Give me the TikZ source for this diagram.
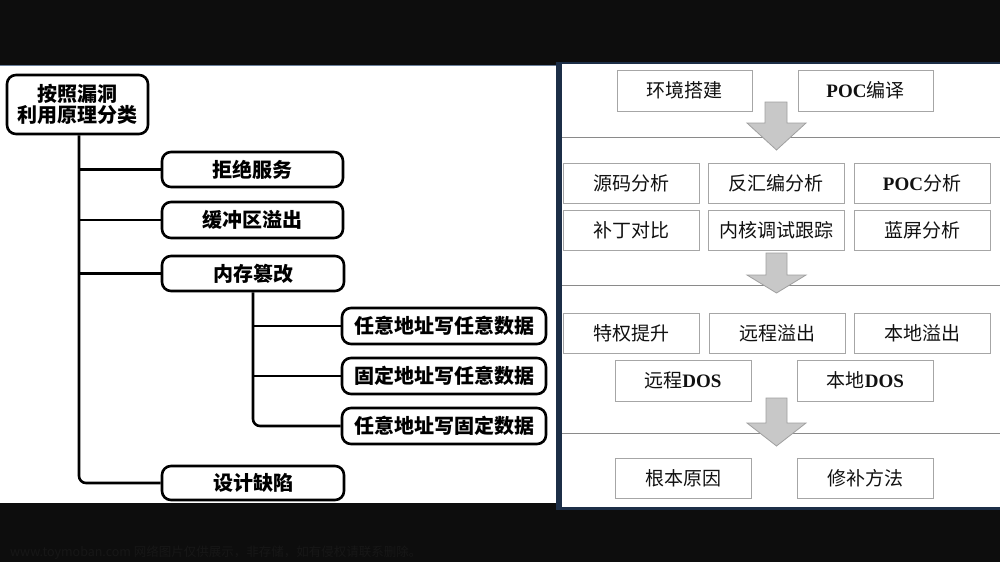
\documentclass[tikz,border=0pt]{standalone}
\usepackage{fontspec}
\setmainfont{Liberation Serif}
\newfontfamily\cjk{Noto Sans CJK SC}
\newcommand\lat[1]{{\rmfamily\bfseries #1}}
\definecolor{bgdark}{HTML}{0D0D0D}
\definecolor{navyedge}{HTML}{1C2E47}
\definecolor{topedge}{HTML}{6A7F9A}
\definecolor{rboxline}{HTML}{A6A6A6}
\definecolor{rtext}{HTML}{111111}
\definecolor{sepline}{HTML}{8A8A8A}
\definecolor{arrfill}{HTML}{C8C8C8}
\definecolor{arrline}{HTML}{A0A0A0}
\definecolor{wmark}{HTML}{171717}
\tikzset{
  lbox/.style={draw=black, line width=2.6pt, rounded corners=9pt, inner sep=0pt,
    font=\cjk\bfseries\fontsize{20}{20}\selectfont, align=center},
  conn/.style={draw=black, line width=2.6pt},
  rbox/.style={draw=rboxline, line width=0.9pt, inner sep=0pt,
    minimum width=136pt, minimum height=40pt, text=rtext,
    font=\cjk\fontsize{19}{19}\selectfont},
  sep/.style={draw=sepline, line width=0.9pt},
  blockarrow/.style={fill=arrfill, draw=arrline, line width=0.8pt},
}
\begin{document}
\begin{tikzpicture}[x=1pt, y=-1pt]
\useasboundingbox (0,0) rectangle (1000,562);
% background and panels
\fill[bgdark] (0,0) rectangle (1000,562);
\fill[white] (0,66) rectangle (556,503);
\draw[topedge, line width=1pt] (0,65.5) -- (556,65.5);
\fill[navyedge] (556,62) rectangle (1000,510);
\fill[white] (562,64) rectangle (1000,507);

% ---------------- left panel ----------------
\node[lbox, minimum width=141pt, minimum height=59pt, font=\cjk\bfseries\fontsize{20}{21}\selectfont] (root) at (77.5,104.5) {\rule{0pt}{3pt}按照漏洞\\利用原理分类};
\node[lbox, minimum width=181pt, minimum height=35pt] (jj) at (252.5,169.5) {拒绝服务};
\node[lbox, minimum width=181pt, minimum height=36pt] (hc) at (252.5,220) {缓冲区溢出};
\node[lbox, minimum width=182pt, minimum height=35pt] (nc) at (253,273.5) {内存篡改};
\node[lbox, minimum width=204pt, minimum height=36pt] (s1) at (444,326) {任意地址写任意数据};
\node[lbox, minimum width=204pt, minimum height=36pt] (s2) at (444,376) {固定地址写任意数据};
\node[lbox, minimum width=204pt, minimum height=36pt] (s3) at (444,426) {任意地址写固定数据};
\node[lbox, minimum width=182pt, minimum height=34pt] (sj) at (253,483) {设计缺陷};

\draw[conn, rounded corners=7pt] ([xshift=1.5pt]root.south) -- ([xshift=1.5pt]root.south |- sj.west) -- (sj.west);
\draw[conn] ([xshift=1.5pt]root.south |- jj.west) -- (jj.west);
\draw[conn] ([xshift=1.5pt]root.south |- hc.west) -- (hc.west);
\draw[conn] ([xshift=1.5pt]root.south |- nc.west) -- (nc.west);

\draw[conn, rounded corners=7pt] (nc.south) -- (nc.south |- s3.west) -- (s3.west);
\draw[conn] (nc.south |- s1.west) -- (s1.west);
\draw[conn] (nc.south |- s2.west) -- (s2.west);

% ---------------- right panel ----------------
\draw[sep] (562,137) -- (1000,137);
\draw[sep] (562,285) -- (1000,285);
\draw[sep] (562,433) -- (1000,433);

\node[rbox, minimum width=135pt, minimum height=41pt] (env) at (684.5,90.5) {环境搭建};
\node[rbox, minimum width=135pt, minimum height=41pt] (pocc) at (865.5,90.5) {\lat{POC}编译};

\node[rbox] (src) at (631,183) {源码分析};
\node[rbox] (dis) at (776,183) {反汇编分析};
\node[rbox] (poca) at (922,183) {\lat{POC}分析};
\node[rbox] (patch) at (631,230) {补丁对比};
\node[rbox] (kdbg) at (776,230) {内核调试跟踪};
\node[rbox] (bsod) at (922,230) {蓝屏分析};

\node[rbox] (priv) at (631.5,333) {特权提升};
\node[rbox] (rov) at (777,333) {远程溢出};
\node[rbox] (lov) at (922,333) {本地溢出};
\node[rbox, minimum height=41pt] (rdos) at (683,380.5) {远程\lat{DOS}};
\node[rbox, minimum height=41pt] (ldos) at (865.5,380.5) {本地\lat{DOS}};

\node[rbox] (root2) at (683,478) {根本原因};
\node[rbox] (fix) at (865.5,478) {修补方法};

% block arrows
\path[blockarrow] (765,102) -- (787,102) -- (787,123) -- (806,123) -- (776.5,150) -- (747,123) -- (765,123) -- cycle;
\path[blockarrow] (766,253) -- (787,253) -- (787,275) -- (806,275) -- (776.5,293) -- (747,275) -- (766,275) -- cycle;
\path[blockarrow] (766,398) -- (787,398) -- (787,423) -- (806,423) -- (776.5,446) -- (747,423) -- (766,423) -- cycle;

% watermark
\node[anchor=west, inner sep=0pt, text=wmark, font=\cjk\fontsize{12.5}{12.5}\selectfont] (wm) at (10,553) {www.toymoban.com 网络图片仅供展示，非存储，如有侵权请联系删除。};
\end{tikzpicture}
\end{document}
